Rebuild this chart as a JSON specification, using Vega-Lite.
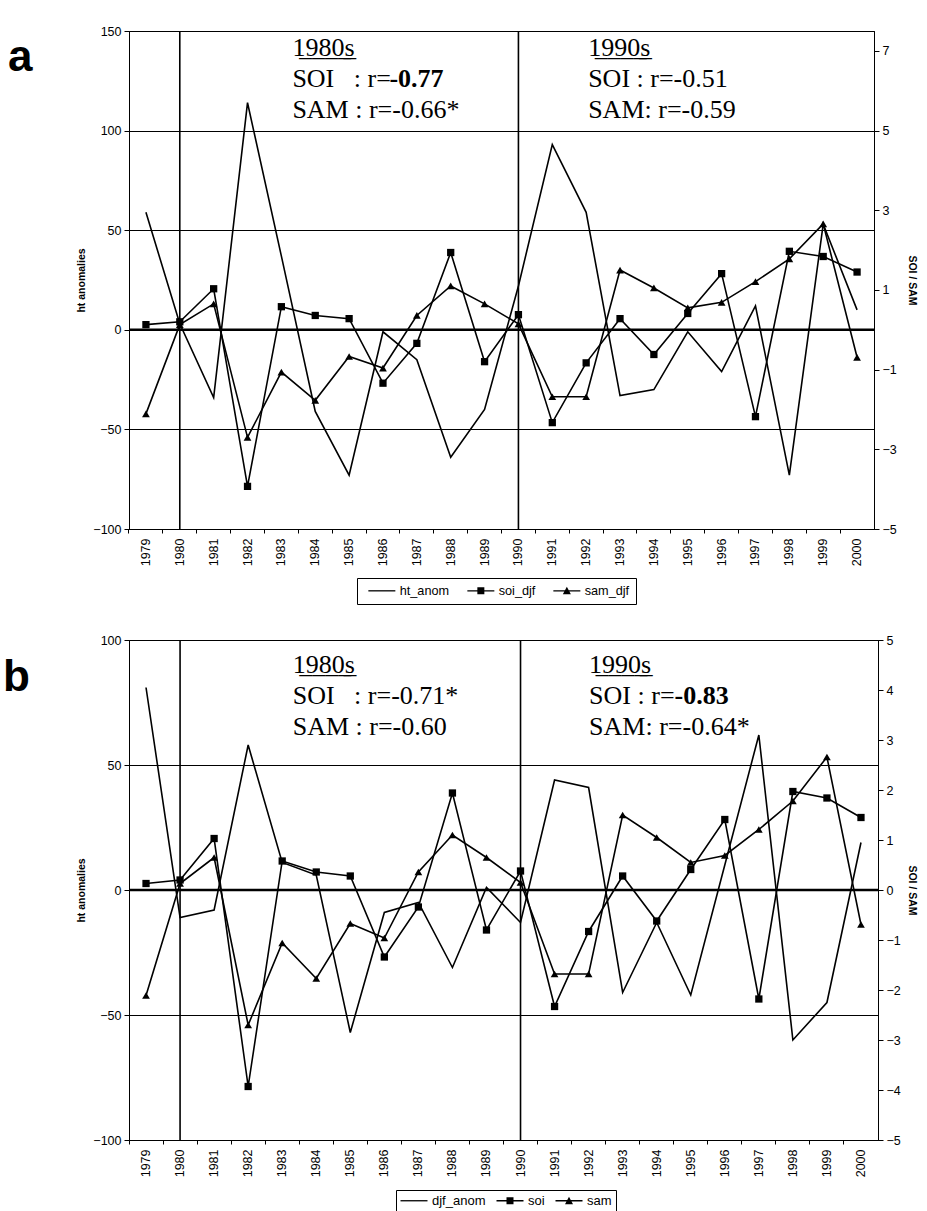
{
  "$schema": "https://vega.github.io/schema/vega-lite/v6.json",
  "padding": {"left": 2, "top": 24, "right": 8, "bottom": 0},
  "background": "white",
  "datasets": {
    "a": [
      {"year": 1979, "ht_anom": 59, "soi_djf": 0.13, "sam_djf": -2.11},
      {"year": 1980, "ht_anom": 3, "soi_djf": 0.2, "sam_djf": 0.13},
      {"year": 1981, "ht_anom": -34, "soi_djf": 1.03, "sam_djf": 0.65},
      {"year": 1982, "ht_anom": 114, "soi_djf": -3.93, "sam_djf": -2.7},
      {"year": 1983, "ht_anom": 37, "soi_djf": 0.58, "sam_djf": -1.06},
      {"year": 1984, "ht_anom": -41, "soi_djf": 0.36, "sam_djf": -1.77},
      {"year": 1985, "ht_anom": -73, "soi_djf": 0.28, "sam_djf": -0.67},
      {"year": 1986, "ht_anom": -1, "soi_djf": -1.34, "sam_djf": -0.96},
      {"year": 1987, "ht_anom": -15, "soi_djf": -0.34, "sam_djf": 0.36},
      {"year": 1988, "ht_anom": -64, "soi_djf": 1.94, "sam_djf": 1.1},
      {"year": 1989, "ht_anom": -40, "soi_djf": -0.8, "sam_djf": 0.65},
      {"year": 1990, "ht_anom": 22, "soi_djf": 0.38, "sam_djf": 0.15},
      {"year": 1991, "ht_anom": 93, "soi_djf": -2.33, "sam_djf": -1.68},
      {"year": 1992, "ht_anom": 59, "soi_djf": -0.83, "sam_djf": -1.68},
      {"year": 1993, "ht_anom": -33, "soi_djf": 0.28, "sam_djf": 1.5},
      {"year": 1994, "ht_anom": -30, "soi_djf": -0.62, "sam_djf": 1.05},
      {"year": 1995, "ht_anom": -1, "soi_djf": 0.41, "sam_djf": 0.55},
      {"year": 1996, "ht_anom": -21, "soi_djf": 1.41, "sam_djf": 0.69},
      {"year": 1997, "ht_anom": 12, "soi_djf": -2.18, "sam_djf": 1.21},
      {"year": 1998, "ht_anom": -73, "soi_djf": 1.97, "sam_djf": 1.78},
      {"year": 1999, "ht_anom": 53, "soi_djf": 1.84, "sam_djf": 2.66},
      {"year": 2000, "ht_anom": 10, "soi_djf": 1.45, "sam_djf": -0.69}
    ],
    "b": [
      {"year": 1979, "djf_anom": 81, "soi": 0.13, "sam": -2.11},
      {"year": 1980, "djf_anom": -11, "soi": 0.2, "sam": 0.13},
      {"year": 1981, "djf_anom": -8, "soi": 1.03, "sam": 0.65},
      {"year": 1982, "djf_anom": 58, "soi": -3.93, "sam": -2.7},
      {"year": 1983, "djf_anom": 11, "soi": 0.58, "sam": -1.06},
      {"year": 1984, "djf_anom": 6, "soi": 0.36, "sam": -1.77},
      {"year": 1985, "djf_anom": -57, "soi": 0.28, "sam": -0.67},
      {"year": 1986, "djf_anom": -9, "soi": -1.34, "sam": -0.96},
      {"year": 1987, "djf_anom": -5, "soi": -0.34, "sam": 0.36},
      {"year": 1988, "djf_anom": -31, "soi": 1.94, "sam": 1.1},
      {"year": 1989, "djf_anom": 1, "soi": -0.8, "sam": 0.65},
      {"year": 1990, "djf_anom": -13, "soi": 0.38, "sam": 0.15},
      {"year": 1991, "djf_anom": 44, "soi": -2.33, "sam": -1.68},
      {"year": 1992, "djf_anom": 41, "soi": -0.83, "sam": -1.68},
      {"year": 1993, "djf_anom": -41, "soi": 0.28, "sam": 1.5},
      {"year": 1994, "djf_anom": -13, "soi": -0.62, "sam": 1.05},
      {"year": 1995, "djf_anom": -42, "soi": 0.41, "sam": 0.55},
      {"year": 1996, "djf_anom": 10, "soi": 1.41, "sam": 0.69},
      {"year": 1997, "djf_anom": 62, "soi": -2.18, "sam": 1.21},
      {"year": 1998, "djf_anom": -60, "soi": 1.97, "sam": 1.78},
      {"year": 1999, "djf_anom": -45, "soi": 1.84, "sam": 2.66},
      {"year": 2000, "djf_anom": 19, "soi": 1.45, "sam": -0.69}
    ]
  },
  "config": {
    "font": "Liberation Sans",
    "view": {"stroke": "black", "strokeWidth": 1},
    "axis": {
      "domainColor": "black", "tickColor": "black", "labelColor": "black", "titleColor": "black",
      "labelFont": "Liberation Sans", "labelFontSize": 12.5, "titleFont": "Liberation Sans",
      "titleFontSize": 10.5, "titleFontWeight": "bold"
    }
  },
  "vconcat": [
    {
      "width": 745, "height": 498,
      "title": {"text": "a", "orient": "left", "anchor": "end", "angle": 0, "align": "right", "baseline": "alphabetic", "dy": 46, "offset": 20, "fontSize": 44, "fontWeight": "bold", "font": "Liberation Sans", "color": "black"},
      "layer": [
        {
          "layer": [
            {"data": {"values": [{}]}, "mark": {"type": "rule", "color": "black", "strokeWidth": 2.5}, "encoding": {"y": {"datum": 0, "type": "quantitative"}}},
            {"data": {"values": [{"year": 1980}, {"year": 1990}]}, "mark": {"type": "rule", "color": "black", "strokeWidth": 1.6}, "encoding": {"x": {"field": "year", "type": "ordinal"}}},
            {
              "data": {"name": "a"},
              "mark": {"type": "line", "color": "black", "strokeWidth": 1.6},
              "encoding": {
                "x": {"field": "year", "type": "ordinal", "axis": {"title": null, "labelAngle": -90, "bandPosition": 0, "labelOffset": 0, "tickSize": 4, "labelPadding": 5}},
                "y": {"field": "ht_anom", "type": "quantitative", "scale": {"domain": [-100, 150], "nice": false, "zero": false},
                  "axis": {"title": "ht anomalies", "values": [-100, -50, 0, 50, 100, 150], "grid": true, "gridColor": "black", "gridOpacity": 1, "gridWidth": 1, "tickSize": 5, "labelPadding": 3, "titlePadding": 6}}
              }
            },
            {"data": {"values": [{}]}, "mark": {"type": "text", "font": "Liberation Serif", "fontSize": 26, "color": "black", "align": "left", "baseline": "alphabetic", "dx": 11, "lineHeight": 31},
             "encoding": {"x": {"datum": 1983, "type": "ordinal"}, "y": {"datum": 137.7, "type": "quantitative"}, "text": {"value": ["1̲9̲8̲0̲s̲", "SOI\u00a0\u00a0\u00a0: r=", "SAM : r=-0.66*"]}}},
            {"data": {"values": [{}]}, "mark": {"type": "text", "font": "Liberation Serif", "fontSize": 26, "fontWeight": "bold", "color": "black", "align": "left", "baseline": "alphabetic", "dx": 108},
             "encoding": {"x": {"datum": 1983, "type": "ordinal"}, "y": {"datum": 122.1, "type": "quantitative"}, "text": {"value": "-0.77"}}},
            {"data": {"values": [{}]}, "mark": {"type": "text", "font": "Liberation Serif", "fontSize": 26, "color": "black", "align": "left", "baseline": "alphabetic", "dx": 2, "lineHeight": 31},
             "encoding": {"x": {"datum": 1992, "type": "ordinal"}, "y": {"datum": 137.7, "type": "quantitative"}, "text": {"value": ["1̲9̲9̲0̲s̲", "SOI : r=-0.51", "SAM: r=-0.59"]}}}
          ]
        },
        {
          "data": {"name": "a"},
          "transform": [{"fold": ["soi_djf", "sam_djf"], "as": ["series", "value"]}],
          "encoding": {
            "x": {"field": "year", "type": "ordinal"},
            "y": {"field": "value", "type": "quantitative", "scale": {"domain": [-5, 7.5], "nice": false, "zero": false},
              "axis": {"orient": "right", "title": "SOI / SAM", "values": [-5, -3, -1, 1, 3, 5, 7], "grid": false, "tickSize": 5, "labelPadding": 3, "titlePadding": 10}}
          },
          "layer": [
            {"mark": {"type": "line", "color": "black", "strokeWidth": 1.6}, "encoding": {"detail": {"field": "series"}}},
            {"transform": [{"filter": "datum.series === 'soi_djf'"}], "mark": {"type": "point", "shape": "square", "filled": true, "color": "black", "size": 53, "opacity": 1}},
            {"transform": [{"filter": "datum.series === 'sam_djf'"}], "mark": {"type": "point", "shape": "triangle-up", "filled": true, "color": "black", "size": 60, "opacity": 1}},
            {"mark": {"type": "point", "filled": true, "color": "black", "size": 100, "opacity": 0},
             "encoding": {"shape": {"field": "series", "type": "nominal",
               "scale": {"domain": ["ht_anom", "soi_djf", "sam_djf"], "range": ["M-2.7,-0.13H2.7V0.13H-2.7Z", "M-2.7,-0.13H2.7V0.13H-2.7ZM-0.7,-0.7H0.7V0.7H-0.7Z", "M-2.7,-0.13H2.7V0.13H-2.7ZM0,-0.8L0.8,0.7H-0.8Z"]},
               "legend": {"orient": "none", "legendX": 228, "legendY": 547, "direction": "horizontal", "title": null,
                 "strokeColor": "black", "padding": 6, "labelFont": "Liberation Sans", "labelFontSize": 12.7, "labelColor": "black",
                 "symbolSize": 100, "symbolOpacity": 1, "symbolFillColor": "black",
                 "symbolOffset": 12.5, "labelOffset": 11.5, "columnPadding": 12}}}}
          ]
        }
      ],
      "resolve": {"scale": {"y": "independent"}}
    },
    {
      "width": 749, "height": 500,
      "title": {"text": "b", "orient": "left", "anchor": "end", "angle": 0, "align": "right", "baseline": "alphabetic", "dy": 57, "offset": 20, "fontSize": 44, "fontWeight": "bold", "font": "Liberation Sans", "color": "black"},
      "layer": [
        {
          "layer": [
            {"data": {"values": [{}]}, "mark": {"type": "rule", "color": "black", "strokeWidth": 2.5}, "encoding": {"y": {"datum": 0, "type": "quantitative"}}},
            {"data": {"values": [{"year": 1980}, {"year": 1990}]}, "mark": {"type": "rule", "color": "black", "strokeWidth": 1.6}, "encoding": {"x": {"field": "year", "type": "ordinal"}}},
            {
              "data": {"name": "b"},
              "mark": {"type": "line", "color": "black", "strokeWidth": 1.6},
              "encoding": {
                "x": {"field": "year", "type": "ordinal", "axis": {"title": null, "labelAngle": -90, "bandPosition": 0, "labelOffset": 0, "tickSize": 4, "labelPadding": 5}},
                "y": {"field": "djf_anom", "type": "quantitative", "scale": {"domain": [-100, 100], "nice": false, "zero": false},
                  "axis": {"title": "ht anomalies", "values": [-100, -50, 0, 50, 100], "grid": true, "gridColor": "black", "gridOpacity": 1, "gridWidth": 1, "tickSize": 5, "labelPadding": 3, "titlePadding": 6}}
              }
            },
            {"data": {"values": [{}]}, "mark": {"type": "text", "font": "Liberation Serif", "fontSize": 26, "color": "black", "align": "left", "baseline": "alphabetic", "dx": 10.5, "lineHeight": 31},
             "encoding": {"x": {"datum": 1983, "type": "ordinal"}, "y": {"datum": 87, "type": "quantitative"}, "text": {"value": ["1̲9̲8̲0̲s̲", "SOI\u00a0\u00a0\u00a0: r=-0.71*", "SAM : r=-0.60"]}}},
            {"data": {"values": [{}]}, "mark": {"type": "text", "font": "Liberation Serif", "fontSize": 26, "color": "black", "align": "left", "baseline": "alphabetic", "dx": 0.5, "lineHeight": 31},
             "encoding": {"x": {"datum": 1992, "type": "ordinal"}, "y": {"datum": 87, "type": "quantitative"}, "text": {"value": ["1̲9̲9̲0̲s̲", "SOI : r=", "SAM: r=-0.64*"]}}},
            {"data": {"values": [{}]}, "mark": {"type": "text", "font": "Liberation Serif", "fontSize": 26, "fontWeight": "bold", "color": "black", "align": "left", "baseline": "alphabetic", "dx": 86},
             "encoding": {"x": {"datum": 1992, "type": "ordinal"}, "y": {"datum": 74.6, "type": "quantitative"}, "text": {"value": "-0.83"}}}
          ]
        },
        {
          "data": {"name": "b"},
          "transform": [{"fold": ["soi", "sam"], "as": ["series", "value"]}],
          "encoding": {
            "x": {"field": "year", "type": "ordinal"},
            "y": {"field": "value", "type": "quantitative", "scale": {"domain": [-5, 5], "nice": false, "zero": false},
              "axis": {"orient": "right", "title": "SOI / SAM", "values": [-5, -4, -3, -2, -1, 0, 1, 2, 3, 4, 5], "grid": false, "tickSize": 5, "labelPadding": 3, "titlePadding": 6}}
          },
          "layer": [
            {"mark": {"type": "line", "color": "black", "strokeWidth": 1.6}, "encoding": {"detail": {"field": "series"}}},
            {"transform": [{"filter": "datum.series === 'soi'"}], "mark": {"type": "point", "shape": "square", "filled": true, "color": "black", "size": 53, "opacity": 1}},
            {"transform": [{"filter": "datum.series === 'sam'"}], "mark": {"type": "point", "shape": "triangle-up", "filled": true, "color": "black", "size": 60, "opacity": 1}},
            {"mark": {"type": "point", "filled": true, "color": "black", "size": 100, "opacity": 0},
             "encoding": {"shape": {"field": "series", "type": "nominal",
               "scale": {"domain": ["djf_anom", "soi", "sam"], "range": ["M-2.7,-0.13H2.7V0.13H-2.7Z", "M-2.7,-0.13H2.7V0.13H-2.7ZM-0.7,-0.7H0.7V0.7H-0.7Z", "M-2.7,-0.13H2.7V0.13H-2.7ZM0,-0.8L0.8,0.7H-0.8Z"]},
               "legend": {"orient": "none", "legendX": 267, "legendY": 550, "direction": "horizontal", "title": null,
                 "strokeColor": "black", "padding": 4, "labelFont": "Liberation Sans", "labelFontSize": 13, "labelColor": "black",
                 "symbolSize": 100, "symbolOpacity": 1, "symbolFillColor": "black",
                 "symbolOffset": 7.5, "labelOffset": 11.5, "columnPadding": 7}}}}
          ]
        }
      ],
      "resolve": {"scale": {"y": "independent"}}
    }
  ],
  "spacing": 111,
  "bounds": "flush",
  "resolve": {"scale": {"x": "independent", "y": "independent", "shape": "independent"}, "legend": {"shape": "independent"}}
}
